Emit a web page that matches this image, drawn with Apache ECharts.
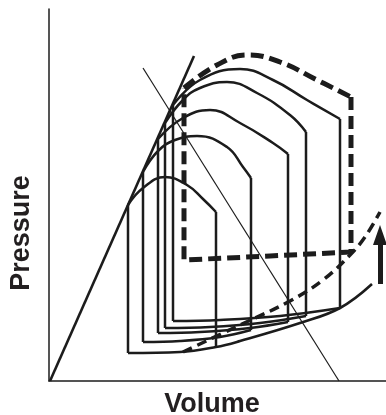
<!DOCTYPE html>
<html>
<head>
<meta charset="utf-8">
<script src="https://cdn.jsdelivr.net/npm/echarts@6/dist/echarts.min.js"></script>
<style>html,body{margin:0;padding:0;background:#fff}#c{width:386px;height:415px}</style>
</head>
<body>
<div id="c"></div>
<script>
// Schematic units: volume (x) 0..337, pressure (y) 0..372
const espvr = [[1,0],[145,325]];
const eaLine = [[94,313],[290,0]];
const edpvrSolid = [[79,28],[131,29],[167,34],[191,40],[251,58],[291,73],[323,97]];
const edpvrDashed = [[134,29],[191,56],[241,80],[274,101],[301,126],[316,144],[331,169]];

const loopATop = [[79,176],[94,193],[116,204],[138,196],[154,182],[167,169]];
const loopABottom = [[167,34],[79,28]];
const loopBTop = [[94,209],[109,230],[126,241],[148,245],[178,234],[194,214],[202,203]];
const loopBBottom = [[202,51],[171,44],[131,40],[94,39]];
const loopCTop = [[109,242],[134,263],[161,271],[191,258],[224,238],[239,227]];
const loopCBottom = [[239,59],[201,53],[151,49],[109,48]];
const loopDTop = [[116,258],[134,281],[151,293],[178,299],[208,288],[241,266],[257,249]];
const loopDBottom = [[257,65],[211,58],[161,54],[116,53]];
const loopETop = [[124,276],[151,301],[191,312],[224,301],[258,281],[291,262]];
const loopEBottom = [[291,73],[231,65],[171,61],[124,60]];

const dashTop = [[135,293],[168,316],[199,326],[231,319],[268,301],[302,284]];
const dashBottom = [[302,129],[221,125],[135,121]];

const arrowShaft = [[331,97],[331,146]];

const INK = '#1c1c1c';
function line(data, opt) {
  opt = opt || {};
  return {
    type: 'line', data: data, showSymbol: false, symbol: 'none', silent: true,
    smooth: opt.smooth || false, z: opt.z || 2,
    lineStyle: { color: INK, width: opt.width || 2.5, type: opt.type || 'solid', cap: 'butt', join: 'round' }
  };
}
const series = [];
series.push(line(espvr, {width: 2.6}));
series.push(line(eaLine, {width: 1.2}));
series.push(line(edpvrSolid, {width: 2.6, smooth: 0.4}));
series.push(line(edpvrDashed, {width: 3.5, smooth: 0.4, type: [10, 6]}));

const loops = [
  [loopATop, loopABottom, false],
  [loopBTop, loopBBottom, true],
  [loopCTop, loopCBottom, true],
  [loopDTop, loopDBottom, true],
  [loopETop, loopEBottom, true]
];
loops.forEach(function (l) {
  const top = l[0], bot = l[1];
  series.push(line(top, {smooth: 0.45}));
  if (l[2]) series.push(line(bot, {smooth: 0.4}));
  series.push(line([top[top.length - 1], bot[0]]));
  series.push(line([bot[bot.length - 1], top[0]]));
});
series.push(line(dashTop, {smooth: 0.45, width: 5, type: [13, 6]}));
series.push(line([dashTop[dashTop.length - 1]].concat(dashBottom).concat([dashTop[0]]), {width: 5, type: [13, 6]}));

series.push({
  type: 'line', data: [], silent: true,
  markLine: {
    silent: true, symbol: ['none', 'triangle'], symbolSize: [14, 20],
    label: {show: false},
    lineStyle: {color: INK, width: 5, type: 'solid'},
    data: [[{coord: arrowShaft[0]}, {coord: arrowShaft[1]}]]
  }
});

const chart = echarts.init(document.getElementById('c'), null, {renderer: 'canvas'});
chart.setOption({
  animation: false,
  backgroundColor: '#fff',
  grid: {left: 49, right: 0, top: 9, bottom: 34, outerBoundsMode: 'none', containLabel: false},
  xAxis: {
    type: 'value', min: 0, max: 337,
    name: 'Volume', nameLocation: 'middle', nameGap: 10,
    nameTextStyle: {fontSize: 27, fontWeight: 'bold', fontFamily: 'Liberation Sans, Arial, sans-serif', color: '#231f20', padding: [0, 11, 0, 0]},
    axisLine: {show: true, lineStyle: {color: INK, width: 1.5}},
    axisTick: {show: false}, axisLabel: {show: false}, splitLine: {show: false}
  },
  yAxis: {
    type: 'value', min: 0, max: 372,
    name: 'Pressure', nameLocation: 'middle', nameGap: 14, nameRotate: 90,
    nameTextStyle: {fontSize: 27, fontWeight: 'bold', fontFamily: 'Liberation Sans, Arial, sans-serif', color: '#231f20', padding: [0, 76, 0, 0]},
    axisLine: {show: true, lineStyle: {color: INK, width: 1.5}},
    axisTick: {show: false}, axisLabel: {show: false}, splitLine: {show: false}
  },
  series: series
});
</script>
</body>
</html>
